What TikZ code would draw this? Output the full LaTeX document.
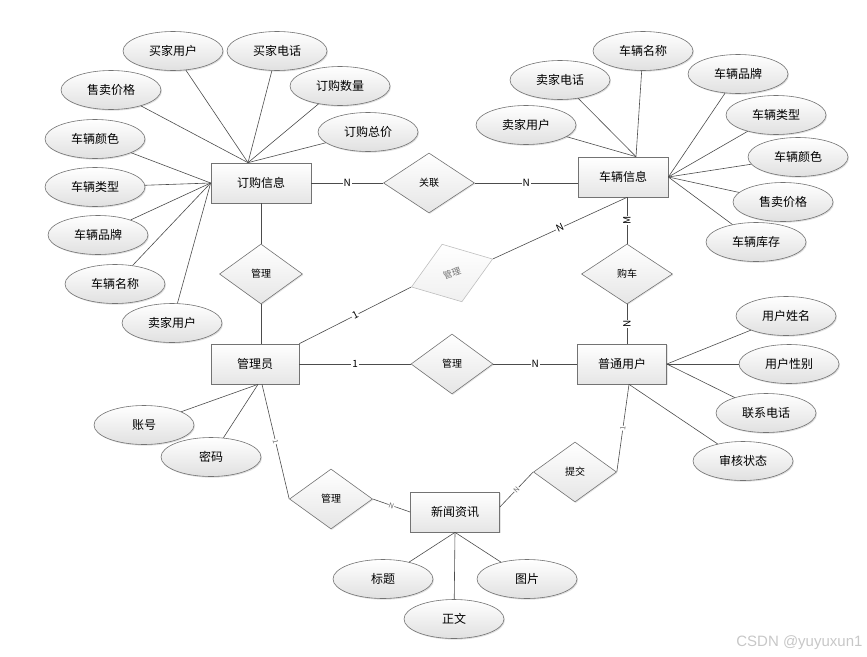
\documentclass[tikz,border=0pt]{standalone}
\usepackage{fontspec}
\setmainfont{Noto Sans CJK SC}
\newfontfamily\wmfont{Liberation Sans}
\usetikzlibrary{shapes.geometric,shadows,calc}

\begin{document}
\begin{tikzpicture}[x=1pt,y=-1pt,
  entity/.style={draw=black!55,line width=0.7pt,top color=white,bottom color=black!10,minimum width=89pt,minimum height=40pt,inner sep=0pt,font=\fontsize{12}{14}\selectfont,drop shadow={opacity=0.2,shadow xshift=1pt,shadow yshift=-1pt}},
  attr/.style={ellipse,draw=black!55,line width=0.6pt,top color=white,bottom color=black!12,minimum width=100pt,minimum height=39pt,inner sep=0pt,font=\fontsize{12}{14}\selectfont,drop shadow={opacity=0.25,shadow xshift=1pt,shadow yshift=-1.2pt}},
  rel/.style={diamond,draw=black!55,line width=0.6pt,top color=white,bottom color=black!10,minimum width=83pt,minimum height=60pt,inner sep=0pt,font=\fontsize{10}{12}\selectfont,drop shadow={opacity=0.2,shadow xshift=1pt,shadow yshift=-1pt}},
  lnk/.style={draw=black!70,line width=0.6pt},
  card/.style={fill=white,inner sep=0.8pt,font=\fontsize{10}{10}\selectfont},
  tinycard/.style={fill=white,inner sep=0.5pt,text=black!60,font=\fontsize{7}{7}\selectfont}]
\useasboundingbox (0,0) rectangle (867,656);

% entities
\node[entity,minimum width=100pt] (dg) at (261,183) {订购信息};
\node[entity,minimum width=90pt] (cl) at (623,177) {车辆信息};
\node[entity,minimum width=88pt] (gly) at (255,364) {管理员};
\node[entity] (yh) at (622,364) {普通用户};
\node[entity] (xw) at (455,512) {新闻资讯};

% relations
\node[rel,minimum width=91pt] (gl) at (429,183) {关联};
\node[rel] (gl1) at (261,274) {管理};
\node[diamond,draw=black!25,line width=0.6pt,top color=white,bottom color=black!6,minimum width=86pt,minimum height=61pt,inner sep=0pt,text=black!55,font=\fontsize{9}{10}\selectfont,rotate=19] (gl2) at (452,273) {管理};
\node[rel,minimum width=91pt] (gc) at (627,274) {购车};
\node[rel,minimum width=82pt] (gl3) at (452,364) {管理};
\node[rel] (gl4) at (331,499) {管理};
\node[rel] (tj) at (575,472) {提交};

% attributes
\foreach \n/\x/\y/\t in {ma1/173/51/买家用户, ma2/277/51/买家电话, shu/340/86/订购数量, zong/368/132/订购总价, jia/111/90/售卖价格,
  yan/95/139/车辆颜色, lei/95/187/车辆类型, pai/98/235/车辆品牌, ming/115/284/车辆名称, ma3/172/323/卖家用户,
  ma4/526/125/卖家用户, ma5/560/80/卖家电话, ming2/643/51/车辆名称, pai2/738/74/车辆品牌, lei2/776/115/车辆类型,
  yan2/798/157/车辆颜色, jia2/783/202/售卖价格, kc/756/242/车辆库存,
  zh/144/425/账号, mm/211/457/密码,
  xm/786/316/用户姓名, xb/789/364/用户性别, dh/766/413/联系电话, zt/743/461/审核状态,
  bt/383/579/标题, zw/454/619/正文, tp/527/579/图片}
  \node[attr] (\n) at (\x,\y) {\t};

\coordinate (dgn) at ($(dg.north)+(-13,0)$);
\coordinate (cln) at ($(cl.north)+(13,0)$);
\coordinate (cls) at ($(cl.south)+(4,0)$);
\coordinate (glys) at ($(gly.south)+(7,0)$);
\coordinate (glyb) at ($(gly.south)+(3,0)$);
\coordinate (yhs) at ($(yh.south)+(7,0)$);
\coordinate (xwe) at ($(xw.east)+(0,-5)$);

\foreach \n in {ma1,ma2,shu,zong,jia} \draw[lnk] (\n) -- (dgn);
\foreach \n in {yan,lei,pai,ming,ma3} \draw[lnk] (\n) -- (dg.west);
\foreach \n in {ma4,ma5,ming2} \draw[lnk] (\n) -- (cln);
\foreach \n in {pai2,lei2,yan2,jia2,kc} \draw[lnk] (\n) -- (cl.east);
\foreach \n in {zh,mm} \draw[lnk] (\n) -- (glyb);
\foreach \n in {xm,xb,dh} \draw[lnk] (\n) -- (yh.east);
\draw[lnk] (zt) -- (yhs);
\foreach \n in {bt,zw,tp} \draw[lnk] (\n) -- (xw.south);

% relation links
\draw[lnk] (dg) -- node[card] {N} (gl);
\draw[lnk] (gl) -- node[card] {N} (gl -| cl.west);
\draw[lnk] (dg) -- (gl1);
\draw[lnk] (gl1) -- (gl1 |- gly.north);
\draw[lnk] (gly.north east) -- node[card,sloped] {1} (gl2.west);
\draw[lnk] (gl2.east) -- node[card,sloped] {N} (cls);
\draw[lnk] (cls) -- node[card,rotate=90] {M} (gc.north);
\draw[lnk] (gc.south) -- node[card,rotate=90] {N} (gc |- yh.north);
\draw[lnk] (gly) -- node[card] {1} (gl3);
\draw[lnk] (gl3) -- node[card] {N} (yh);
\draw[lnk] (glys) -- node[tinycard,sloped] {1} (gl4.west);
\draw[lnk] (gl4.east) -- node[tinycard,sloped] {N} (xw.west);
\draw[lnk] (yhs) -- node[tinycard,sloped] {1} (tj.east);
\draw[lnk] (tj.west) -- node[tinycard,sloped] {N} (xwe);

\node[anchor=east,text=black!22,font=\wmfont\fontsize{15}{15}\selectfont] (wm) at (866,643) {CSDN @yuyuxun1};
\end{tikzpicture}
\end{document}
